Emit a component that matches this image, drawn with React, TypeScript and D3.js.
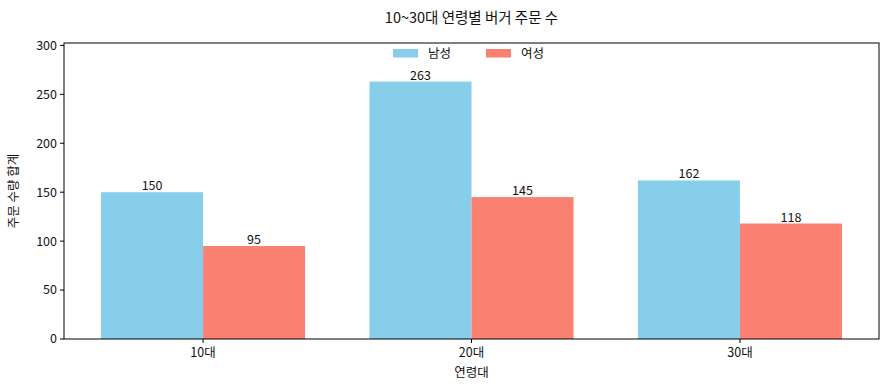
import React from 'react';
import * as d3 from 'd3';

const ageGroups = ['10대', '20대', '30대'];
const maleOrders = [150, 263, 162];
const femaleOrders = [95, 145, 118];
const yTicks = [0, 50, 100, 150, 200, 250, 300];

const seriesNames = ['남성', '여성'];
const colors = ['#87CEEB', '#FA8072'];

const W = 890;
const H = 390;
const margin = { top: 43, right: 11, bottom: 51, left: 64 };
const FONT = '"Noto Sans CJK KR", "Noto Sans", sans-serif';

export default function App() {
  const innerW = W - margin.left - margin.right;
  const innerH = H - margin.top - margin.bottom;
  const barW = 0.38;

  const x = d3
    .scaleLinear()
    .domain([-barW - 0.138, ageGroups.length - 1 + barW + 0.138])
    .range([0, innerW]);
  const y = d3
    .scaleLinear()
    .domain([0, d3.max(maleOrders)! * 1.15])
    .range([innerH, 0]);

  const bw = x(barW) - x(0);
  const series = [maleOrders, femaleOrders];

  return (
    <svg width={W} height={H} style={{ position: 'absolute', left: 0, top: 0, fontFamily: FONT }}>
      <rect width={W} height={H} fill="#fff" />
      <text x={margin.left + innerW / 2} y={23} textAnchor="middle" fontSize={14.5} fill="#111">
        10~30대 연령별 버거 주문 수
      </text>
      <g transform={`translate(${margin.left},${margin.top})`}>
        {series.map((vals, si) =>
          vals.map((v, i) => {
            const x0 = si === 0 ? x(i) - bw : x(i);
            return (
              <g key={`${si}-${i}`}>
                <rect x={x0} y={y(v)} width={bw} height={innerH - y(v)} fill={colors[si]} />
                <text x={x0 + bw / 2} y={y(v) - 2} textAnchor="middle" fontSize={12.5} fill="#111">
                  {v}
                </text>
              </g>
            );
          })
        )}
        <rect x={0} y={0} width={innerW} height={innerH} fill="none" stroke="#000" strokeWidth={1} />
        {yTicks.map((t) => (
          <g key={t} transform={`translate(0,${y(t)})`}>
            <line x1={-4} x2={0} stroke="#000" />
            <text x={-7} dy="0.35em" textAnchor="end" fontSize={12.5} fill="#111">
              {t}
            </text>
          </g>
        ))}
        {ageGroups.map((g, i) => (
          <g key={g} transform={`translate(${x(i)},${innerH})`}>
            <line y1={0} y2={4} stroke="#000" />
            <text y={18} textAnchor="middle" fontSize={12.5} fill="#111">
              {g}
            </text>
          </g>
        ))}
        <text x={innerW / 2} y={innerH + 38} textAnchor="middle" fontSize={12.5} fill="#111">
          연령대
        </text>
        <text
          transform={`translate(${-46},${innerH / 2}) rotate(-90)`}
          textAnchor="middle"
          fontSize={12.5}
          fill="#111"
        >
          주문 수량 합계
        </text>
        {seriesNames.map((n, si) => {
          const lx = 329 + si * 93;
          return (
            <g key={n} transform={`translate(${lx},6)`}>
              <rect x={0} y={0} width={25} height={8.5} fill={colors[si]} />
              <text x={35} y={9} fontSize={12.5} fill="#111">
                {n}
              </text>
            </g>
          );
        })}
      </g>
    </svg>
  );
}
